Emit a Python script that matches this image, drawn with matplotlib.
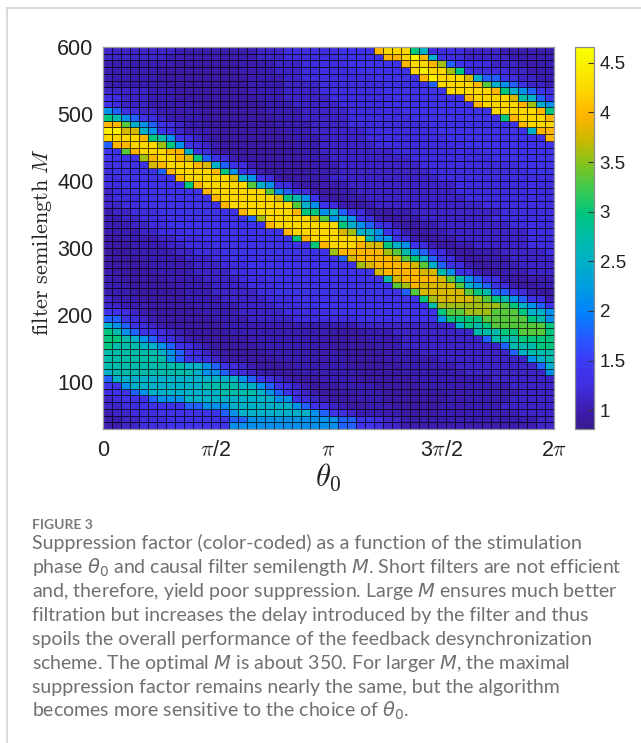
import numpy as np
import matplotlib
matplotlib.use("Agg")
import matplotlib.pyplot as plt
from matplotlib.colors import LinearSegmentedColormap
from matplotlib.lines import Line2D

W, H = 641, 743

# filter semilength edges (M) and stimulation phase cells
M_edges = np.arange(30, 610, 10)
n_theta = 50
theta_edges = np.linspace(0, 2 * np.pi, n_theta + 1)

# suppression factor level for each code letter
levels = dict(a=0.95, b=1.03, c=1.13, d=1.25, e=1.38, f=1.8, g=2.15, h=2.5, i=2.75,
              j=3.0, k=3.35, l=3.6, m=3.8, n=4.0, o=4.25, p=4.5)

# rows from M=600 (top) down to M=30; 10 groups of 5 columns
rows = [
 "ccccc cccbb bbbbb bbccc ddddd deeee noooj hdddd ccccb bbbbb",
 "ccccc ccbbb bbbbb bbccc ddddd deeee ennop nhedd ccccc bbbbb",
 "bbbbb bbbaa aaaaa bbbbc ccddd ddeee eeeno onlfe dddcc cbbbb",
 "bbbbb baaaa aaaaa bbbbc ccddd dddee eeeeo poolj edddd ccbbb",
 "bbbbb baaaa aaaaa abbbb ccddd ddddd eeeee npooo mhffe dccbb",
 "bbbbb bbaaa aaaaa abbbb ccccd ddddd deeee efooo onkhg feccb",
 "ccccc bbbaa aaaaa abbbb ccccd ddddd deeee eeeoo ooonj hgfed",
 "ddccc bbbaa aaaaa aabbb ccccc ddddd ddeee eeeee noooo mihfe",
 "edccc bbbbb aaaaa aaabb bcccc cdddd ddeee eeeee enooo onlhg",
 "gfedc cbbbb baaaa aaabb bbccc ccddd dddee eeeee eeeoo ooonj",
 "jigfe dcbbb baaaa aaaab bbccc ccddd dddde eeeee eeeej nooon",
 "nnkhg fedcb baaaa aaaab bbbcc ccddd ddddd deeee eeeee enooo",
 "ppmmh gedcb bbaaa aaaaa bbbcc ccccd ddddd ddeee eeeee eehnn",
 "oooon jiged cbaaa aaaaa abbbc ccccd ddddd dddee eeeee eeeen",
 "fnnoo oljge dcbaa aaaaa abbbc ccccc ddddd ddddd eeeee eeeee",
 "eekno oonnh edbaa aaaaa aabbc ccccc ccddd ddddd ddeee eeeee",
 "eeeel noonm jfedb aaaaa aabbb ccccc ccccd ddddd dddee eeeee",
 "deeee mnooo nmhfe dbaaa aaabb bcccc ccccc ddddd ddddd deeee",
 "deeee efnoo oonjg edbaa aaabb bcccc ccccc cdddd ddddd ddeee",
 "ddeee eeeno oooom hgeda aabbb ccccc ccccc ccddd ddddd ddddd",
 "ddeee eeeej noooo okhge dbaab bbccc ccccc ccccd ddddd ddddd",
 "cddee eeeee enooo oookg fedba abbcc ccccc ccccd ddddd ddddd",
 "cddde eeeee eenoo oooom jigeb aabbc ccccc ccccc ddddd ddddd",
 "ccdde eeeee eeeno ooooo okhge dbaab ccccc ccccc ccddd ddddd",
 "bccdd deeee eeeee noooo onjjg hfedb aabbc ccccc ccccd ddddd",
 "bbccd ddeee eeeee efloo ooomk ghged baabb ccccc cccdd ddddd",
 "bbbcc ddeee eeeee eeeno ooooo ojhgf edbaa bbccc ccccc ddddd",
 "bbbbc cddde eeeee eeeee noooo omlhh gedba abbcc ccccc ccddd",
 "aabbb bccdd deeee eeeee ejnoo ooooi ggedb aabbc ccccc ccddd",
 "aaabb bbccd ddeee eeeee eeejn ooonm mjhge dbaab bcccc ccddd",
 "aaabb bbbcc dddee eeeee eeeee lnnnn nlkig fedba abbbc ccccd",
 "aaaab bbbbc ccdde eeeee eeeee efmnn nnmkj hfedb aabbb ccccc",
 "aaaaa bbbbb cccdd deeee eeeee eeelm nnnnm khfed baabb bcccc",
 "baaaa abbbb ccccd ddeee eeeee eeeee mnnnn mmige dbaab bbccc",
 "bbaaa aabbb bcccc dddee eeeee eeeee eimnn nnmki gfedb aabbb",
 "bbbaa aaabb bbccc cddde eeeee eeeee eekln mmmmk hgfed baabb",
 "bbbaa aaaab bbccc ccdde eeeee eeeee eeefk mmmmm kjiff edbaa",
 "cbbba aaaab bbbcc cccdd deeee eeeee eeeee jlmmm mlkji gfedb",
 "ccbbb aaaaa bbbbb ccccd ddeee eeeee eeeee eilll llllk jhgfe",
 "eedcb aaaaa abbbb ccccc ddddd eeeee eeeee eejkk lllkk kjhhg",
 "ffedc baaaa aabbb bcccc cdddd dddee eeeee eegjj jjkkk kkjig",
 "hgfed cbaaa aaabb bbbbb bbbbb bbbcc ccccc cccch jijkk kkkkj",
 "jigfe edcba aaaab bbbbb bbbbb aaaab bbccc ccccc ciiij jkkkj",
 "jjihg fedcb aaaaa abbbb bbbbb aaaab bbbcc ccccc ccfii ijjjj",
 "jiiih hgfed cbaaa aabbb bbbbb aaaaa bbbcc ccccc ccccf iiijj",
 "iiiii ihgfe dcbaa aaabb bbbbb baaaa abbbb ccccc ccccc fhiii",
 "iiiii iigfe edcba aaaab bbbbb bbaaa abbbb bbccc ccccc ccghi",
 "iiiii iiiih hgfed cbaaa abbbb bbaaa aaabb bbbbc ccccc cccfh",
 "hiiii iiiii hggfe dcbaa aabbb bbbaa aaabb bbbbb ccccc ccccg",
 "fhhhh hhhhh hhhhh gfedc baaab bbbaa aaaab bbbbb bbbcc ccccc",
 "eeghh hhhhh hiiii hhgfe dcbaa abbbb aaaaa bbbbb bbbbb ccccc",
 "deefg hhhhh hhhii iihgf edcba aaabb baaaa aaabb bbbbb bcccc",
 "cdeee fgggh hhhhh hhhhg gedcb aaabb baaaa aaabb bbbbb ccccc",
 "ccdde eeeef fgggh hhhhh hgfed cbaab bbaaa aabbb bbbbc ccccc",
 "bccdd deeee eeefg hhhhh hhhgf edcbb bbbaa aabbb bbbbb bcccc",
 "bbccd ddeee eeeef fgggg ggggg gffee dccbb bbbbb bbbbb bbbcc",
 "bbccd ddeee eeeeg ggggg ggggg gffee dccbb bbbbb bbbbb bbbcc",
]

x_ticks = [0, np.pi / 2, np.pi, 3 * np.pi / 2, 2 * np.pi]
x_ticklabels = ["0", r"$\pi$/2", r"$\pi$", r"3$\pi$/2", r"2$\pi$"]
y_ticks = [100, 200, 300, 400, 500, 600]
cbar_ticks = [1, 1.5, 2, 2.5, 3, 3.5, 4, 4.5]
cbar_ticklabels = ["1", "1.5", "2", "2.5", "3", "3.5", "4", "4.5"]
clim = (0.81, 4.66)

caption_head = "FIGURE 3"
caption_lines = [
    "Suppression factor (color-coded) as a function of the stimulation",
    r"phase $\theta_0$ and causal filter semilength $M$. Short filters are not efficient",
    r"and, therefore, yield poor suppression. Large $M$ ensures much better",
    "filtration but increases the delay introduced by the filter and thus",
    "spoils the overall performance of the feedback desynchronization",
    r"scheme. The optimal $M$ is about 350. For larger $M$, the maximal",
    "suppression factor remains nearly the same, but the algorithm",
    r"becomes more sensitive to the choice of $\theta_0$.",
]

# colour bar as it looks in the picture: value, (r, g, b)
cmap_values = [0.81, 1.0, 1.25, 1.5, 1.75, 2.0, 2.25, 2.5, 2.75, 3.0, 3.25, 3.5, 3.75,
               4.0, 4.25, 4.5, 4.66]
cmap_colors = [(55, 25, 140), (60, 28, 172), (64, 45, 222), (60, 58, 245), (38, 90, 255),
               (2, 130, 252), (0, 155, 225), (0, 175, 200), (0, 187, 170), (0, 197, 125),
               (60, 202, 80), (130, 195, 30), (205, 185, 0), (255, 180, 0), (252, 215, 0),
               (250, 240, 0), (250, 255, 0)]
stops = [(v - clim[0]) / (clim[1] - clim[0]) for v in cmap_values]
cmap = LinearSegmentedColormap.from_list(
    "bar", [(s, tuple(ch / 255 for ch in c)) for s, c in zip(stops, cmap_colors)], N=256)

plt.rcParams["font.family"] = ["Liberation Sans", "DejaVu Sans"]
plt.rcParams["mathtext.fontset"] = "cm"

Z = np.array([[levels[c] for c in r.replace(" ", "")] for r in rows])[::-1]

fig = plt.figure(figsize=(W / 100, H / 100), dpi=100)


def box(x0, y0, x1, y1):
    return [x0 / W, 1 - y1 / H, (x1 - x0) / W, (y1 - y0) / H]


ax = fig.add_axes(box(103, 47, 554, 429))
mesh = ax.pcolormesh(theta_edges, M_edges, Z, cmap=cmap, vmin=clim[0], vmax=clim[1],
                     edgecolors=(0, 0, 0, 0.72), linewidth=0.65)
ax.set_xticks(x_ticks)
ax.set_xticklabels(x_ticklabels, fontsize=15.5)
ax.set_yticks(y_ticks)
ax.tick_params(axis="both", length=0, labelsize=15.5, colors="#222222")
ax.tick_params(axis="y", pad=7)
ax.tick_params(axis="x", pad=8)
for s in ax.spines.values():
    s.set_color("#9a9a9a")
    s.set_linewidth(0.9)

fig.text(42 / W, 1 - 241.5 / H, r"$\mathrm{filter\ semilength}\ M$", rotation=90,
         ha="center", va="center", fontsize=16, color="#222222")
fig.text(328 / W, 1 - 477 / H, r"$\theta_0$", ha="center", va="center", fontsize=22,
         color="#222222")

cax = fig.add_axes(box(575, 47, 594, 429))
cb = fig.colorbar(mesh, cax=cax)
cb.solids.set_edgecolor("face")
cb.set_ticks(cbar_ticks)
cb.set_ticklabels(cbar_ticklabels)
cax.tick_params(axis="y", direction="in", length=4.5, width=0.8, color="#333333",
                labelsize=13.5, pad=4, labelcolor="#222222")
cb.outline.set_edgecolor("#8a8a8a")
cb.outline.set_linewidth(0.9)

# card border
border = "#d4d4d4"
fig.add_artist(Line2D([7 / W, 7 / W], [0, 1 - 8 / H], color=border, lw=1.2))
fig.add_artist(Line2D([7 / W, 1], [1 - 8 / H, 1 - 8 / H], color=border, lw=1.2))

fig.text(32 / W, 1 - 529 / H, caption_head, family="Lato", fontsize=10,
         fontweight="bold", color="#7a7a7a", va="baseline")
for i, line in enumerate(caption_lines):
    fig.text(32 / W, 1 - (549.5 + i * 23.9) / H, line, family="Lato", fontsize=14,
             color="#707070", va="baseline", math_fontfamily="dejavusans")

fig.savefig("out.png", dpi=100)
